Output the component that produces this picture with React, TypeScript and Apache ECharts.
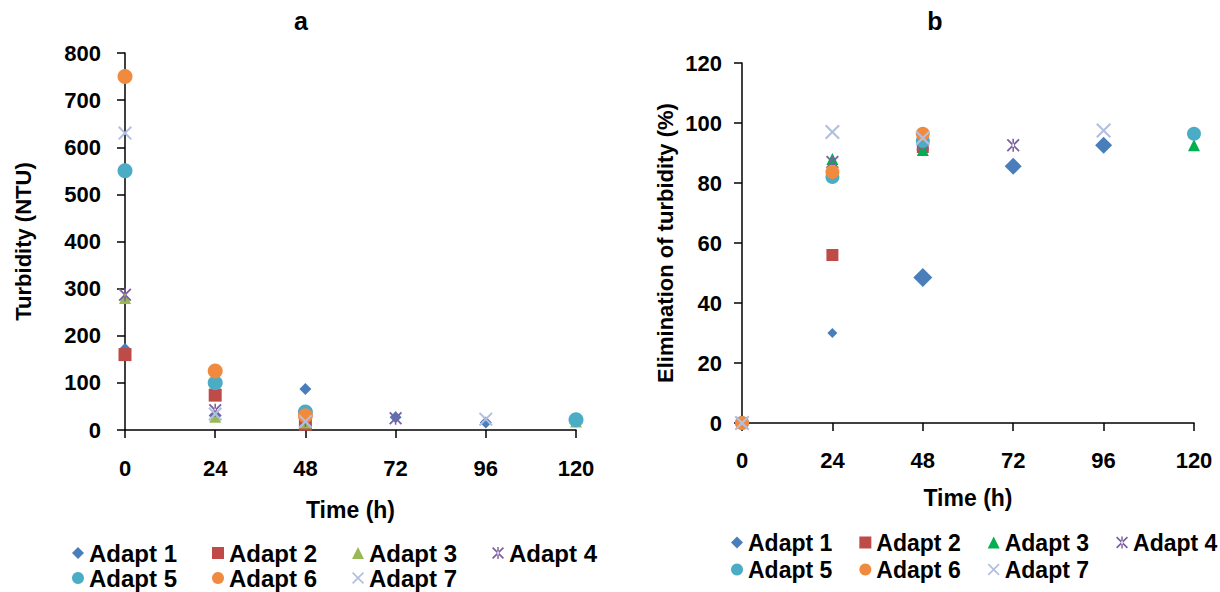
import React, { useEffect, useRef } from "react";
import * as echarts from "echarts";

const times = [0, 24, 48, 72, 96, 120];
const seriesNames = ["Adapt 1", "Adapt 2", "Adapt 3", "Adapt 4", "Adapt 5", "Adapt 6", "Adapt 7"];

// Panel a: turbidity (NTU)
const turbA1 = [172, 30, 87, 27, 16, null];
const turbA2 = [160, 74, 12, null, null, null];
const turbA3 = [280, 28, 16, null, null, 18];
const turbA4 = [287, 42, 20, 25, null, null];
const turbA5 = [550, 100, 38, null, null, 22];
const turbA6 = [750, 125, 30, null, null, null];
const turbA7 = [630, 34, 18, null, 23, null];

// Panel b: elimination of turbidity (%)
const elimA1 = [0, 30, 48.5, 85.6, 92.6, null];
const elimA2 = [0, 56, 92, null, null, null];
const elimA3 = [0, 88, 91, null, null, 92.6];
const elimA4 = [0, 87, 93, 92.6, null, null];
const elimA5 = [0, 82, 94, null, null, 96.4];
const elimA6 = [0, 83.7, 96.4, null, null, null];
const elimA7 = [0, 97, 95, null, 97.5, null];

const turbTicks = [0, 100, 200, 300, 400, 500, 600, 700, 800];
const elimTicks = [0, 20, 40, 60, 80, 100, 120];

const XPATH = "path://M1,0 L5,4 L9,0 L10,1 L6,5 L10,9 L9,10 L5,6 L1,10 L0,9 L4,5 L0,1 Z";
const STARPATH =
  "path://M1,0 L5,4 L9,0 L10,1 L6,5 L10,9 L9,10 L5,6 L1,10 L0,9 L4,5 L0,1 Z M4.4,0 L4.4,10 L5.6,10 L5.6,0 Z";

const leftColors = ["#4A7EBB", "#BE4B48", "#98B954", "#7D60A0", "#4BACC6", "#F08A3E", "#B3BFE0"];
const rightColors = ["#4A7EBB", "#BE4B48", "#00B050", "#7D60A0", "#4BACC6", "#F08A3E", "#B3BFE0"];
const symbols = ["diamond", "rect", "triangle", STARPATH, "circle", "circle", XPATH];
const leftSizes = [12, 13, 12, 13, 15, 15, 14];
const rightSizes = [12, 12, 12, 13, 14, 14, 15];
const rightDiamondSizes = [12, 10, 19, 17, 17];

const FONT = "'Liberation Sans', Arial, sans-serif";

function pts(vals: (number | null)[]) {
  const out: number[][] = [];
  vals.forEach((v, i) => {
    if (v !== null) out.push([times[i], v]);
  });
  return out;
}

export default function App() {
  const ref = useRef<HTMLDivElement>(null);
  useEffect(() => {
    if (!ref.current) return;
    const chart = echarts.init(ref.current, null, { renderer: "svg" });
    const turb = [turbA1, turbA2, turbA3, turbA4, turbA5, turbA6, turbA7];
    const elim = [elimA1, elimA2, elimA3, elimA4, elimA5, elimA6, elimA7];

    const txt = (size: number) => ({ fontFamily: FONT, fontWeight: "bold" as const, fontSize: size, color: "#000" });
    const axisCommon = {
      axisLine: { show: true, lineStyle: { color: "#000", width: 1.5 } },
      axisTick: { show: true, length: 8, lineStyle: { color: "#000", width: 1.5 } },
      splitLine: { show: false },
      nameLocation: "middle" as const,
    };

    const series: any[] = [];
    turb.forEach((vals, i) => {
      series.push({
        type: "scatter",
        name: seriesNames[i],
        xAxisIndex: 0,
        yAxisIndex: 0,
        symbol: symbols[i],
        symbolSize: leftSizes[i],
        itemStyle: { color: leftColors[i], opacity: 1 },
        data: pts(vals),
        emphasis: { disabled: true },
      });
    });
    elim.forEach((vals, i) => {
      series.push({
        type: "scatter",
        name: seriesNames[i],
        xAxisIndex: 1,
        yAxisIndex: 1,
        symbol: symbols[i],
        symbolSize: i === 0 ? (_v: any, p: any) => rightDiamondSizes[p.dataIndex] : rightSizes[i],
        itemStyle: { color: rightColors[i], opacity: 1 },
        data: pts(vals),
        emphasis: { disabled: true },
      });
    });

    const legendItems = (idx: number[], colors: string[]) =>
      idx.map((i) => ({ name: seriesNames[i], icon: symbols[i], itemStyle: { color: colors[i] } }));
    const legendCommon = {
      orient: "horizontal" as const,
      padding: 0,
      itemWidth: 12,
      itemHeight: 12,
      selectedMode: false,
      width: 700,
    };

    chart.setOption({
      animation: false,
      backgroundColor: "#fff",
      textStyle: { fontFamily: FONT },
      graphic: [
        { type: "text", x: 301, y: 21, style: { text: "a", fontFamily: FONT, fontWeight: "bold", fontSize: 25, fill: "#000", textAlign: "center", textVerticalAlign: "middle" } },
        { type: "text", x: 935, y: 21, style: { text: "b", fontFamily: FONT, fontWeight: "bold", fontSize: 25, fill: "#000", textAlign: "center", textVerticalAlign: "middle" } },
      ],
      grid: [
        { left: 125, top: 53, width: 451, height: 377 },
        { left: 742, top: 63, width: 452, height: 360 },
      ],
      xAxis: [
        {
          ...axisCommon,
          gridIndex: 0,
          type: "value",
          min: 0,
          max: 120,
          interval: 24,
          name: "Time (h)",
          nameGap: 68,
          nameTextStyle: txt(23),
          axisLabel: { ...txt(22), margin: 27 },
        },
        {
          ...axisCommon,
          gridIndex: 1,
          type: "value",
          min: 0,
          max: 120,
          interval: 24,
          name: "Time (h)",
          nameGap: 63,
          nameTextStyle: txt(23),
          axisLabel: { ...txt(22), margin: 26 },
        },
      ],
      yAxis: [
        {
          ...axisCommon,
          gridIndex: 0,
          type: "value",
          min: turbTicks[0],
          max: turbTicks[turbTicks.length - 1],
          interval: turbTicks[1] - turbTicks[0],
          name: "Turbidity (NTU)",
          nameGap: 91,
          nameTextStyle: txt(22),
          axisLabel: { ...txt(22), margin: 24 },
        },
        {
          ...axisCommon,
          gridIndex: 1,
          type: "value",
          min: elimTicks[0],
          max: elimTicks[elimTicks.length - 1],
          interval: elimTicks[1] - elimTicks[0],
          name: "Elimination of turbidity (%)",
          nameGap: 66,
          nameTextStyle: txt(22),
          axisLabel: { ...txt(22), margin: 20 },
        },
      ],
      legend: [
        { ...legendCommon, left: 72, top: 541, itemGap: 35, textStyle: txt(24), data: legendItems([0, 1, 2, 3], leftColors) },
        { ...legendCommon, left: 72, top: 566, itemGap: 35, textStyle: txt(24), data: legendItems([4, 5, 6], leftColors) },
        { ...legendCommon, left: 731, top: 531, itemGap: 27, width: 489, textStyle: txt(23), data: legendItems([0, 1, 2, 3], rightColors) },
        { ...legendCommon, left: 731, top: 558, itemGap: 27, width: 489, textStyle: txt(23), data: legendItems([4, 5, 6], rightColors) },
      ],
      series,
    });
    return () => chart.dispose();
  }, []);
  return (
    <div
      ref={ref}
      style={{ position: "fixed", left: 0, top: 0, width: 1220, height: 592, background: "#fff" }}
    />
  );
}
